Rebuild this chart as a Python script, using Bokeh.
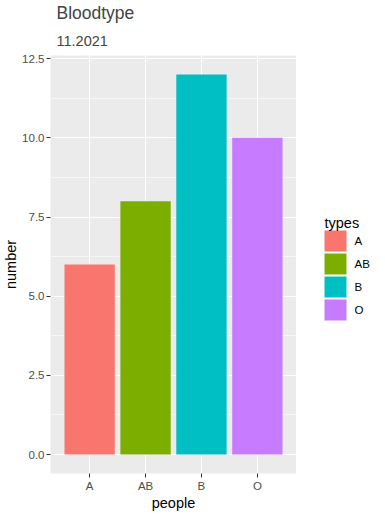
from bokeh.plotting import figure
from bokeh.layouts import row
from bokeh.models import (FactorRange, Range1d, Title,
                          SingleIntervalTicker, NumeralTickFormatter, ColumnDataSource)
from bokeh.core.properties import value
from bokeh.embed import file_html
from bokeh.resources import INLINE

types = ["A", "AB", "B", "O"]
numbers = [6, 8, 12, 10]
colors = ["#F8766D", "#7CAE00", "#00BFC4", "#C77CFF"]
y_ticks_interval = 2.5
legend_title = "types"

FONT = "Liberation Sans"

p = figure(frame_width=246, frame_height=418, output_backend="svg", toolbar_location=None,
           x_range=FactorRange(*types, range_padding=0.2, range_padding_units="absolute"),
           y_range=Range1d(-0.6, 12.6),
           min_border_left=48, min_border_right=0, min_border_bottom=37, min_border_top=47)

p.background_fill_color = "#EBEBEB"
p.border_fill_color = "white"
p.outline_line_color = None

src = ColumnDataSource(dict(types=types, numbers=numbers, colors=colors))
r = p.vbar(x="types", top="numbers", width=0.9, bottom=0, fill_color="colors",
           line_color=None, source=src)

# grids
p.xgrid.grid_line_color = "white"
p.xgrid.grid_line_width = 1.1
p.ygrid.grid_line_color = "white"
p.ygrid.grid_line_width = 1.1
p.ygrid.minor_grid_line_color = "white"
p.ygrid.minor_grid_line_width = 0.55

p.yaxis.ticker = SingleIntervalTicker(interval=y_ticks_interval, num_minor_ticks=2)
p.yaxis.formatter = NumeralTickFormatter(format="0.0")

for ax in (p.xaxis[0], p.yaxis[0]):
    ax.axis_line_color = None
    ax.major_tick_line_color = "#333333"
    ax.major_tick_in = 0
    ax.major_tick_out = 4
    ax.minor_tick_line_color = None
    ax.major_label_text_color = "#4D4D4D"
    ax.major_label_text_font = FONT
    ax.major_label_text_font_size = "11.5px"
    ax.axis_label_text_font = FONT
    ax.axis_label_text_font_size = "14.5px"
    ax.axis_label_text_font_style = "normal"
    ax.axis_label_text_color = "black"
    ax.major_label_standoff = 2

p.xaxis.axis_label = "people"
p.yaxis.axis_label = "number"
p.xaxis.axis_label_standoff = 0
p.yaxis.axis_label_standoff = 0

# titles
p.add_layout(Title(text="11.2021", text_font=FONT, text_font_size="14.5px",
                   text_font_style="normal", offset=6, standoff=20), "above")
p.add_layout(Title(text="Bloodtype", text_font=FONT, text_font_size="17.5px",
                   text_font_style="normal", offset=6, standoff=1), "above")

# legend panel: its frame shares the main frame's vertical extent,
# y data units = pixels from the top of the whole figure
lg = figure(frame_width=75, frame_height=418, output_backend="svg", toolbar_location=None,
            x_range=Range1d(0, 75), y_range=Range1d(465, 47),
            x_axis_location=None, y_axis_location=None,
            min_border_left=0, min_border_right=0, min_border_top=47, min_border_bottom=37)
lg.xgrid.visible = False
lg.ygrid.visible = False
lg.outline_line_color = None
lg.background_fill_color = "white"
lg.border_fill_color = "white"

n = len(types)
key_y = [232.5 + 23 * i for i in range(n)]
lsrc = ColumnDataSource(dict(types=types, colors=colors, y=key_y,
                             kx=[39] * n, tx=[58] * n))
lg.rect(x="kx", y="y", width=22, height=21, fill_color="colors",
        line_color=None, source=lsrc)
lg.text(x="tx", y="y", text="types", source=lsrc, text_font=value(FONT),
        text_font_size="11.5px", text_baseline="middle", text_align="left",
        text_color="black")
lg.text(x=[28], y=[214], text=[legend_title], text_font=value(FONT),
        text_font_size="14.5px", text_baseline="alphabetic", text_align="left",
        text_color="black")

layout = row(p, lg)
open("out.html", "w").write(file_html(layout, INLINE))
